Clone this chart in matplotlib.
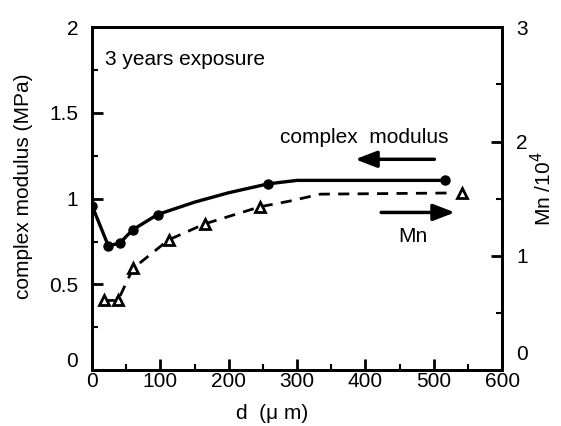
import matplotlib
matplotlib.use("Agg")
import matplotlib.pyplot as plt
from matplotlib.ticker import MultipleLocator

plt.rcParams['font.family'] = ['Liberation Sans', 'DejaVu Sans']

# complex modulus (left axis, MPa)
cm_d = [0, 24, 41, 60, 96, 258, 517]
cm_val = [0.96, 0.724, 0.743, 0.82, 0.908, 1.087, 1.107]
# smooth curve drawn through the points
cm_curve_d = [0, 24, 41, 60, 96, 150, 200, 258, 300, 517]
cm_curve_val = [0.96, 0.724, 0.743, 0.82, 0.908, 0.98, 1.035, 1.087, 1.107, 1.107]

# Mn / 10^4 (right axis)
mn_d = [17, 38, 60, 112, 165, 246, 541]
mn_val = [0.61, 0.61, 0.89, 1.14, 1.28, 1.43, 1.55]
mn_curve_d = [17, 38, 60, 112, 165, 246, 290, 334, 520]
mn_curve_val = [0.61, 0.61, 0.89, 1.14, 1.28, 1.43, 1.48, 1.54, 1.55]

left_labels = ['', '0.5', '1', '1.5', '2']
right_labels = ['', '1', '2', '3']

fig = plt.figure(figsize=(5.61, 4.26), dpi=100)
ax = fig.add_axes([0.164, 0.131, 0.731, 0.805])
ax2 = ax.twinx()

ax.plot(cm_curve_d, cm_curve_val, color='black', lw=2.4, zorder=3)
ax.plot(cm_d, cm_val, 'o', color='black', ms=6.5, zorder=4)

ax2.plot(mn_curve_d, mn_curve_val, color='black', lw=2, ls=(0, (4, 3)), zorder=3)
ax2.plot(mn_d, mn_val, '^', mfc='white', mec='black', mew=2, ms=6.5, zorder=4)

ax.set_xlim(0, 600)
ax.set_ylim(0, 2)
ax2.set_ylim(0, 3)

ax.xaxis.set_major_locator(MultipleLocator(100))
ax.xaxis.set_minor_locator(MultipleLocator(50))
ax.set_yticks([0, 0.5, 1, 1.5, 2])
ax.set_yticklabels(left_labels)
ax.yaxis.set_minor_locator(MultipleLocator(0.25))
ax2.set_yticks([0, 1, 2, 3])
ax2.set_yticklabels(right_labels)
ax2.yaxis.set_minor_locator(MultipleLocator(0.5))

for a in (ax, ax2):
    for s in a.spines.values():
        s.set_linewidth(2)
    a.tick_params(which='major', direction='in', length=8, width=2, labelsize=15)
    a.tick_params(which='minor', direction='in', length=4, width=1.5)
ax.tick_params(axis='y', pad=10)
ax.tick_params(axis='x', pad=1)
ax2.tick_params(axis='y', pad=10)
# zero labels on both sides sit a little above the axis corner
ax.text(-0.035, 0.025, '0', transform=ax.transAxes, fontsize=15, ha='right', va='center')
ax2.text(1.035, 0.045, '0', transform=ax2.transAxes, fontsize=15, ha='left', va='center')

ax.set_xlabel('d  (μ m)', fontsize=15)
ax.xaxis.set_label_coords(0.44, -0.1)
ax.set_ylabel('complex modulus (MPa)', fontsize=15)
ax.yaxis.set_label_coords(-0.144, 0.536)
ax2.set_ylabel('Mn /10$^4$', fontsize=15, rotation=90)
ax2.yaxis.set_label_coords(1.068, 0.53)

ax.text(19, 1.81, '3 years exposure', fontsize=15, va='center')
ax.text(275, 1.36, 'complex  modulus', fontsize=15, va='center')
ax.annotate('', xy=(381, 1.23), xytext=(505, 1.23),
            arrowprops=dict(arrowstyle='-|>,head_length=1.3,head_width=0.5', color='black', lw=2.5))
ax.annotate('', xy=(535, 0.92), xytext=(419, 0.92),
            arrowprops=dict(arrowstyle='-|>,head_length=1.3,head_width=0.5', color='black', lw=2.5))
ax.text(448, 0.78, 'Mn', fontsize=15, va='center')

fig.savefig('out.png', dpi=100)
